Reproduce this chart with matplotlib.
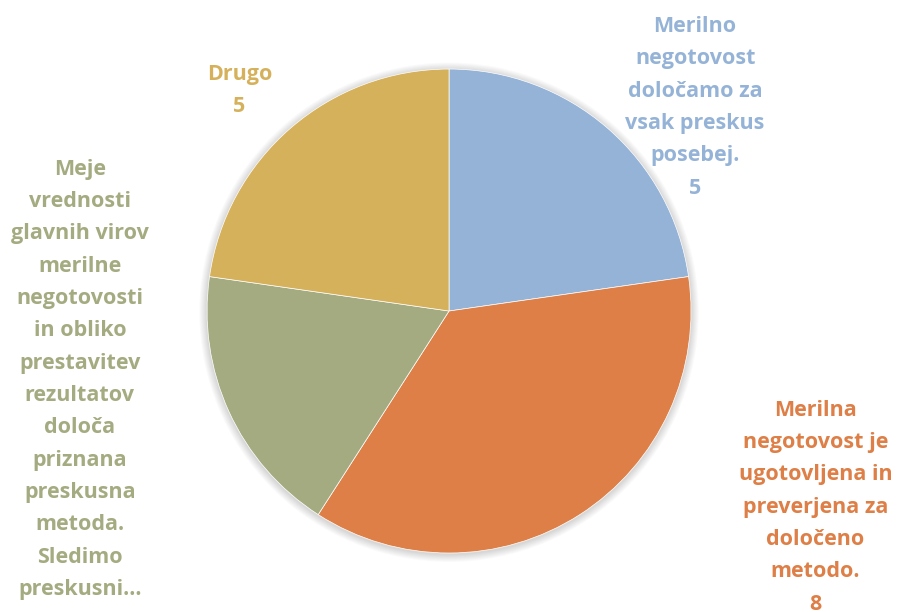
import matplotlib.pyplot as plt
from matplotlib.patches import Circle

# answers per category, clockwise from 12 o'clock
categories = [
    "Merilno\nnegotovost\ndoločamo za\nvsak preskus\nposebej.",
    "Merilna\nnegotovost je\nugotovljena in\npreverjena za\ndoločeno\nmetodo.",
    "Meje\nvrednosti\nglavnih virov\nmerilne\nnegotovosti\nin obliko\nprestavitev\nrezultatov\ndoloča\npriznana\npreskusna\nmetoda.\nSledimo\npreskusni…",
    "Drugo",
]
counts = [5, 8, 4, 5]
colors = ["#95B3D7", "#DD7F46", "#A4AB80", "#D6B15C"]

# label anchor (figure fraction) for each category
label_xy = [(0.775, 0.974), (0.909, 0.347), (0.089, 0.741), (0.267, 0.896)]
show_value = [True, True, False, True]

plt.rcParams["font.family"] = ["Open Sans", "DejaVu Sans"]

fig = plt.figure(figsize=(8.97, 6.12), dpi=100)
ax = fig.add_axes([0.2308, 0.0964, 0.5396, 0.7908])

# faint halo behind the pie
for i in range(8):
    ax.add_patch(Circle((0.0, -0.005), 1.0 + 0.004 * (i + 1), color="black",
                        alpha=0.02, lw=0, zorder=0, clip_on=False))

ax.pie(counts, colors=colors, startangle=90, counterclock=False,
       radius=1.0, wedgeprops=dict(linewidth=0.5, edgecolor="white"))
ax.set_xlim(-1, 1)
ax.set_ylim(-1, 1)
ax.axis("off")

for text, n, c, (x, y), sv in zip(categories, counts, colors, label_xy, show_value):
    s = f"{text}\n{n}" if sv else text
    fig.text(x, y, s, color=c, fontsize=15.5, fontweight="bold",
             ha="center", va="top", linespacing=1.71)

fig.savefig("out.png", dpi=100)
